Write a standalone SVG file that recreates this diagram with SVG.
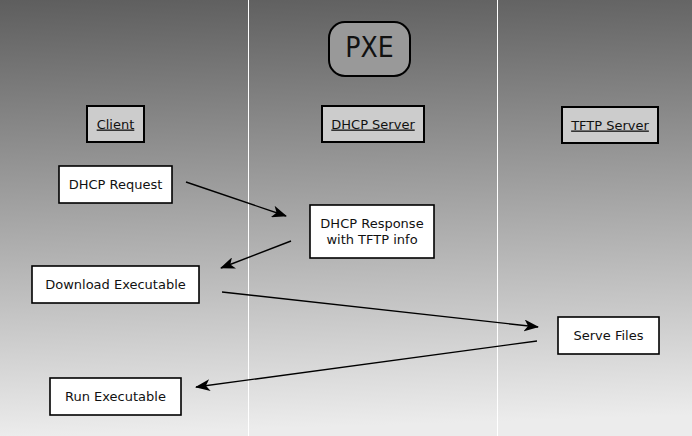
<svg xmlns="http://www.w3.org/2000/svg" width="692" height="436" viewBox="0 0 692 436">
<defs>
<linearGradient id="bg" x1="0" y1="0" x2="0.05" y2="1">
<stop offset="0" stop-color="#5e5e5e"/>
<stop offset="1" stop-color="#ececec"/>
</linearGradient>
<marker id="ah" viewBox="0 0 15 12" refX="14" refY="6" markerWidth="15" markerHeight="12" markerUnits="userSpaceOnUse" orient="auto">
<path d="M0,0 L15,6 L0,12 L4,6 z" fill="#000"/>
</marker>
</defs>
<style>
text{font-family:"DejaVu Sans","Liberation Sans",sans-serif;font-size:13px;fill:#111;text-anchor:middle}
.hdr rect{fill:#cccccc;stroke:#000;stroke-width:2}
.hdr text{text-decoration:underline}
.step rect{fill:#fff;stroke:#000;stroke-width:1.6}
.lane{stroke:#fff;stroke-width:1}
#connectors line{stroke:#000;stroke-width:1.4;marker-end:url(#ah)}
</style>
<rect width="692" height="436" fill="url(#bg)"/>
<line class="lane" x1="248.5" y1="0" x2="248.5" y2="436"/>
<line class="lane" x1="497.5" y1="0" x2="497.5" y2="436"/>
<g id="title">
<rect x="329" y="22" width="81" height="54" rx="16" fill="#999" stroke="#000" stroke-width="2"/>
<text x="369.5" y="57" style="font-family:'DejaVu Sans Condensed','DejaVu Sans',sans-serif;font-size:28px">PXE</text>
</g>
<g id="client" class="hdr">
<rect x="87" y="106" width="57" height="36"/>
<text x="115.5" y="128.5">Client</text>
</g>
<g id="dhcp-server" class="hdr">
<rect x="322" y="106" width="102" height="36"/>
<text x="373" y="128.5">DHCP Server</text>
</g>
<g id="tftp-server" class="hdr">
<rect x="562" y="107" width="96" height="36"/>
<text x="610" y="129.5">TFTP Server</text>
</g>
<g id="dhcp-request" class="step">
<rect x="59" y="166" width="113" height="37"/>
<text x="115.5" y="189">DHCP Request</text>
</g>
<g id="dhcp-response" class="step">
<rect x="310" y="205" width="124" height="53"/>
<text x="372" y="228">DHCP Response</text>
<text x="372" y="243.5">with TFTP info</text>
</g>
<g id="download" class="step">
<rect x="32" y="266" width="167" height="37"/>
<text x="115.5" y="289">Download Executable</text>
</g>
<g id="serve" class="step">
<rect x="558" y="317" width="101" height="37"/>
<text x="608.5" y="340">Serve Files</text>
</g>
<g id="run" class="step">
<rect x="50" y="378" width="131" height="37"/>
<text x="115.5" y="401">Run Executable</text>
</g>
<g id="connectors">
<line x1="186" y1="182" x2="286" y2="216"/>
<line x1="291" y1="241" x2="221" y2="268"/>
<line x1="222" y1="292" x2="538" y2="327"/>
<line x1="537" y1="341" x2="196" y2="387"/>
</g>
</svg>
